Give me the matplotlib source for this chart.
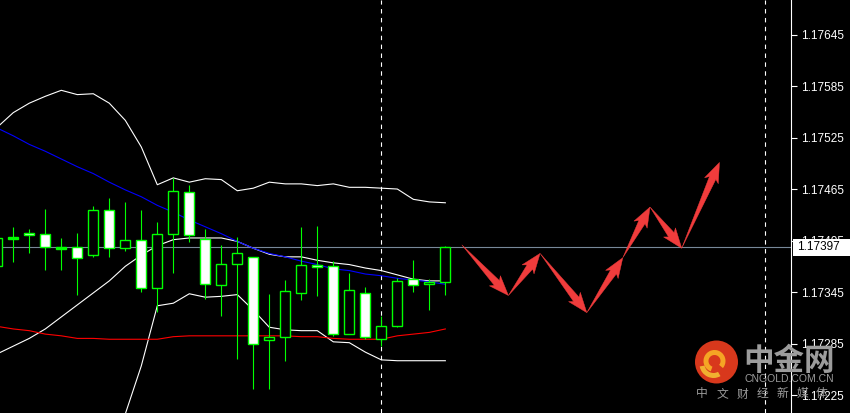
import numpy as np
import matplotlib
matplotlib.use('Agg')
import matplotlib.pyplot as plt
import matplotlib.transforms as mtransforms
from matplotlib.patches import Rectangle, Circle, Polygon, Wedge

# bar index of each candle (first one is cut off at the left edge)
bars = list(range(-1, 28))

opens = [1.17375, 1.17407, 1.17414, 1.17413, 1.17397, 1.17397, 1.17388, 1.17441, 1.17396, 1.17406,
         1.17350, 1.17413, 1.17462, 1.17407, 1.17353, 1.17378, 1.17386, 1.17289, 1.17293, 1.17344,
         1.17377, 1.17375, 1.17296, 1.17344, 1.17290, 1.17305, 1.17360, 1.17354, 1.17357]
highs = [1.17410, 1.17421, 1.17418, 1.17442, 1.17408, 1.17414, 1.17445, 1.17455, 1.17450, 1.17441,
         1.17427, 1.17478, 1.17470, 1.17418, 1.17400, 1.17409, 1.17386, 1.17343, 1.17359, 1.17421,
         1.17422, 1.17381, 1.17367, 1.17351, 1.17317, 1.17361, 1.17382, 1.17360, 1.17399]
lows = [1.17373, 1.17380, 1.17390, 1.17371, 1.17371, 1.17342, 1.17386, 1.17386, 1.17393, 1.17345,
        1.17322, 1.17367, 1.17403, 1.17337, 1.17317, 1.17267, 1.17232, 1.17232, 1.17265, 1.17336,
        1.17340, 1.17294, 1.17296, 1.17290, 1.17282, 1.17304, 1.17345, 1.17324, 1.17342]
closes = [1.17408, 1.17409, 1.17411, 1.17397, 1.17395, 1.17385, 1.17441, 1.17396, 1.17406, 1.17350,
          1.17413, 1.17463, 1.17411, 1.17354, 1.17378, 1.17391, 1.17284, 1.17293, 1.17346, 1.17377,
          1.17374, 1.17296, 1.17347, 1.17293, 1.17305, 1.17358, 1.17353, 1.17357, 1.17397]

# bollinger bands (white) and two moving averages
upper_band = [1.17537, 1.17554, 1.17565, 1.17573, 1.17580, 1.17575, 1.17576, 1.17565, 1.17545, 1.17514,
              1.17470, 1.17478, 1.17473, 1.17477, 1.17476, 1.17463, 1.17466, 1.17473, 1.17471, 1.17471,
              1.17469, 1.17471, 1.17467, 1.17467, 1.17466, 1.17465, 1.17453, 1.17450, 1.17449]
mid_band = [1.17273, 1.17282, 1.17291, 1.17302, 1.17316, 1.17330, 1.17344, 1.17358, 1.17375, 1.17388,
            1.17399, 1.17406, 1.17408, 1.17408, 1.17408, 1.17404, 1.17396, 1.17389, 1.17386, 1.17386,
            1.17382, 1.17379, 1.17377, 1.17373, 1.17370, 1.17365, 1.17360, 1.17358, 1.17358]
lower_band = [1.17079, 1.17091, 1.17103, 1.17114, 1.17126, 1.17138, 1.17149, 1.17167, 1.17203, 1.17259,
              1.17329, 1.17332, 1.17343, 1.17339, 1.17340, 1.17342, 1.17324, 1.17304, 1.17301, 1.17300,
              1.17300, 1.17287, 1.17286, 1.17275, 1.17266, 1.17265, 1.17265, 1.17265, 1.17265]
ma_blue = [1.17536, 1.17527, 1.17517, 1.17509, 1.17500, 1.17491, 1.17483, 1.17473, 1.17464, 1.17456,
           1.17446, 1.17438, 1.17429, 1.17421, 1.17413, 1.17404, 1.17396, 1.17390, 1.17386, 1.17381,
           1.17377, 1.17372, 1.17370, 1.17366, 1.17364, 1.17361, 1.17359, 1.17357, 1.17354]
ma_red = [1.17305, 1.17302, 1.17300, 1.17296, 1.17294, 1.17291, 1.17291, 1.17290, 1.17290, 1.17290,
          1.17290, 1.17293, 1.17294, 1.17294, 1.17294, 1.17294, 1.17294, 1.17294, 1.17294, 1.17293,
          1.17293, 1.17291, 1.17290, 1.17290, 1.17290, 1.17294, 1.17296, 1.17298, 1.17302]

# forecast path drawn with red arrows (bar index, price)
path_x = [28.03, 30.94, 32.92, 35.84, 38.09, 39.79, 41.77, 44.13]
path_y = [1.17400, 1.17341, 1.17390, 1.17321, 1.17385, 1.17444, 1.17396, 1.17496]

separators = [23, 47]
last_price = 1.17397
price_ticks = [1.17225, 1.17285, 1.17345, 1.17405, 1.17465, 1.17525, 1.17585, 1.17645]

W, H = 850, 413
fig = plt.figure(figsize=(W / 100, H / 100), dpi=100, facecolor='black')
ax = fig.add_axes([0, 0, 791 / W, 1])
ax.set_facecolor('black')
ax.set_xlim(-0.83, 48.6)
ax.set_ylim(1.172041, 1.176852)

lw = 0.8
x = np.array(bars)
ax.plot(x, upper_band, color='white', lw=lw, zorder=2)
ax.plot(x, mid_band, color='white', lw=lw, zorder=2)
ax.plot(x, lower_band, color='white', lw=lw, zorder=2)
ax.plot(x, ma_blue, color='#0000ff', lw=lw, zorder=2)
ax.plot(x, ma_red, color='#ff0000', lw=lw, zorder=2)

ax.axhline(last_price, color='#778899', lw=lw, zorder=1)
for s in separators:
    ax.axvline(s, color='white', lw=lw, ls=(0, (4, 4)), zorder=1)

# candles on top of the indicator lines
green = '#00ff00'
ax.vlines(x, lows, highs, color=green, lw=lw, zorder=3)
for xi, o, c in zip(bars, opens, closes):
    bottom = min(o, c)
    h = max(abs(c - o), 0.000005)
    fill = 'black' if c > o else 'white'
    if abs(c - o) < 0.000025:
        fill = green
    ax.add_patch(Rectangle((xi - 0.31, bottom), 0.62, h, facecolor=fill,
                           edgecolor=green, lw=1.0, zorder=4))

# red arrows
fig.canvas.draw()
red = '#f03c3c'
for i in range(len(path_x) - 1):
    p0 = ax.transData.transform((path_x[i], path_y[i]))
    p1 = ax.transData.transform((path_x[i + 1], path_y[i + 1]))
    d = p1 - p0
    L = np.hypot(*d)
    d = d / L
    n = np.array([-d[1], d[0]])
    hl, hw, sw = 17, 15, 7
    hb = p1 - d * hl
    barb = hb - d * 3
    pts = [p0, hb + n * sw / 2, barb + n * hw / 2, p1, barb - n * hw / 2, hb - n * sw / 2]
    ax.add_patch(Polygon(pts, closed=True, facecolor=red, edgecolor=red, lw=0.3,
                         transform=mtransforms.IdentityTransform(), zorder=5))

for side in ['top', 'left', 'bottom']:
    ax.spines[side].set_visible(False)
ax.spines['right'].set_color('white')
ax.spines['right'].set_linewidth(lw)
ax.set_xticks([])
ax.yaxis.tick_right()
ax.set_yticks(price_ticks)
ax.set_yticklabels([f'{t:.5f}' for t in price_ticks], color='white',
                   fontsize=8.5, family='Liberation Sans')
ax.tick_params(axis='y', colors='white', length=4, width=lw, pad=3)

# current price box
tr = mtransforms.blended_transform_factory(fig.transFigure, ax.transData)
box_h = 17 * 0.00001165
fig.add_artist(Rectangle((793 / W, last_price - box_h / 2), 1, box_h, facecolor='white',
                         edgecolor='none', transform=tr, zorder=2))
fig.text(797 / W, last_price, f'{last_price:.5f}', transform=tr, color='black', fontsize=8.5,
         family='Liberation Sans', va='center', ha='left', zorder=3)

# watermark logo
cx, cy = 716.5 / 100, (H - 362) / 100
fig.add_artist(Circle((cx, cy), 0.215, facecolor='#d8381c', edgecolor='none',
                      transform=fig.dpi_scale_trans, zorder=6))
fig.add_artist(Wedge((cx - 0.02, cy + 0.01), 0.11, -40, 250, width=0.05, facecolor='#f5a524',
                     edgecolor='none', transform=fig.dpi_scale_trans, zorder=7))
fig.add_artist(Wedge((cx - 0.03, cy - 0.02), 0.14, 190, 300, width=0.05, facecolor='#f0b030',
                     edgecolor='none', transform=fig.dpi_scale_trans, zorder=7))
grey = '#9c9c9c'
cjk = ['Noto Sans CJK SC', 'DejaVu Sans']
fig.text(789 / W, 1 - 361 / H, '中金网', color=grey, fontsize=22, fontweight='bold',
         family=cjk, ha='center', va='center', zorder=8)
fig.text(789 / W, 1 - 379 / H, 'CNGOLD.COM.CN', color=grey, fontsize=7.5,
         family='Liberation Sans', ha='center', va='center', zorder=8)
for k, ch in enumerate('中文财经新媒体'):
    fig.text((702 + 20 * k) / W, 1 - 394 / H, ch, color=grey, fontsize=8.5,
             family=cjk, ha='center', va='center', zorder=8)

fig.savefig('out.png', dpi=100, facecolor='black')
